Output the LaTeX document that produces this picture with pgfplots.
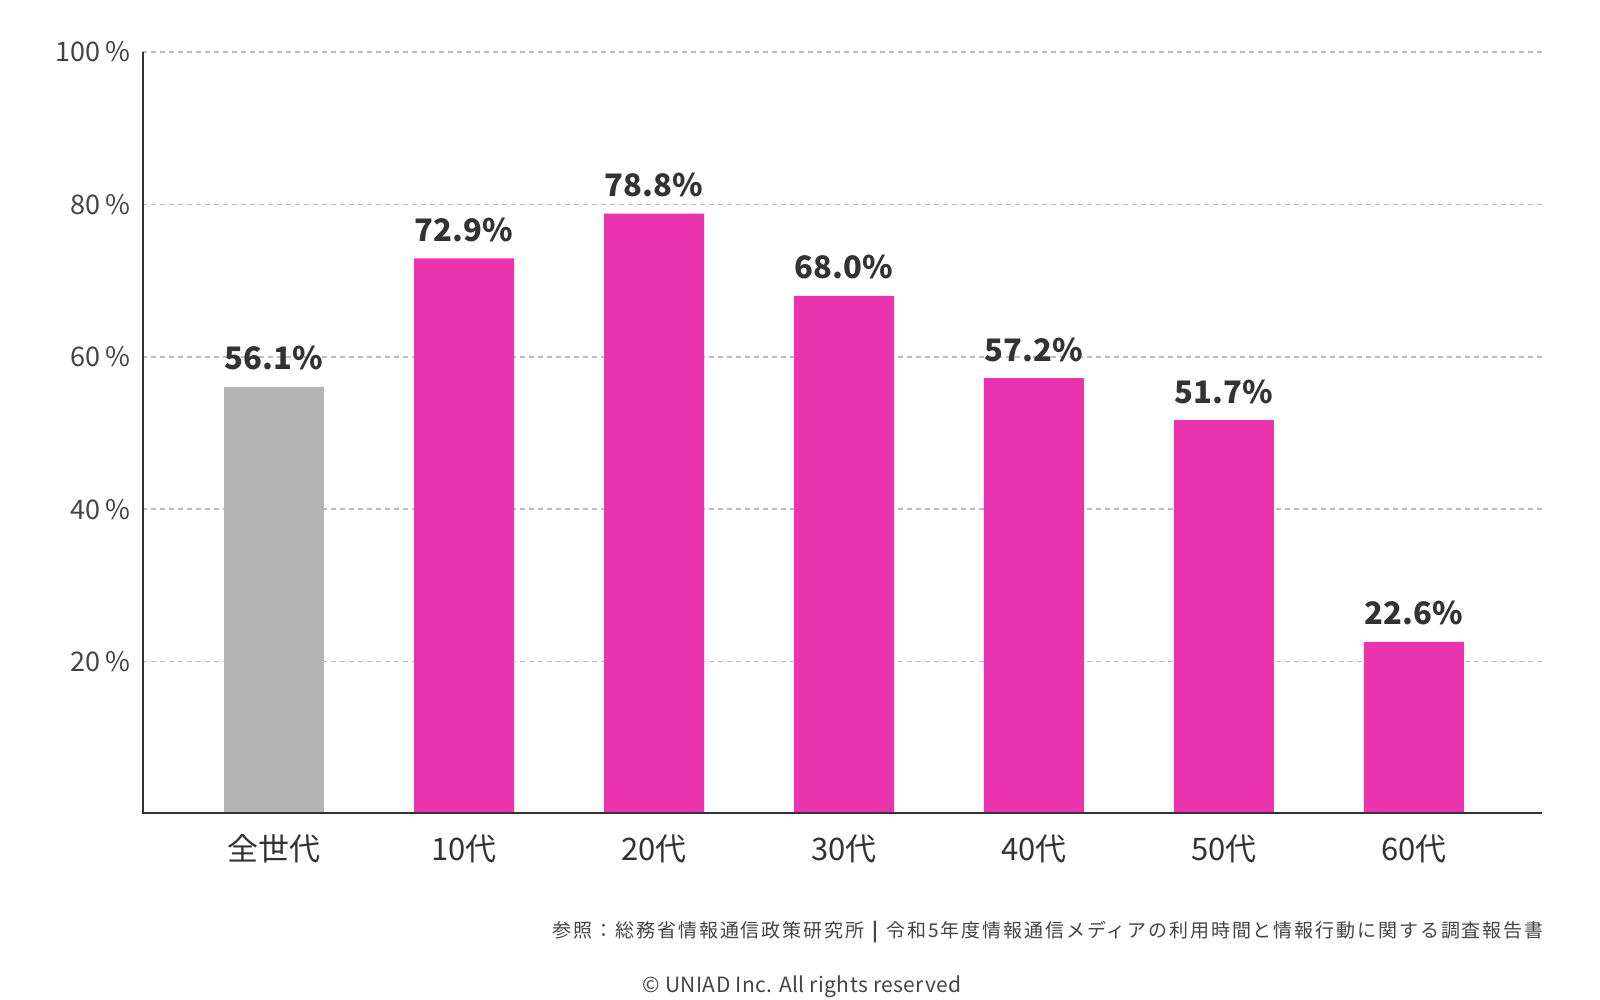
\documentclass[border=0pt]{standalone}
\usepackage{pgfplots}
\pgfplotsset{compat=1.18}
\usepackage{fontspec}
\setmainfont{Noto Sans CJK JP}
\newfontfamily\spaced[LetterSpace=10]{Noto Sans CJK JP}
\newfontfamily\spacedsmall[LetterSpace=2]{Noto Sans CJK JP}

\definecolor{barpink}{HTML}{E933AF}
\definecolor{bargray}{HTML}{B4B4B4}
\definecolor{axisc}{HTML}{333333}
\definecolor{gridc}{HTML}{BDBDBD}
\definecolor{txt}{HTML}{333333}
\definecolor{ticktxt}{HTML}{444444}

\newcommand{\pct}{\kern0.2em\%}

\begin{document}
\begin{tikzpicture}
\useasboundingbox (0,0) rectangle (800pt,500pt);
\begin{axis}[
    at={(71pt,93pt)}, anchor=south west,
    scale only axis, width=700pt, height=381pt,
    xmin=-0.695, xmax=6.674, ymin=0, ymax=100,
    axis x line=bottom, axis y line=left,
    axis line style={draw=none},
    major tick length=0pt,
    ytick={20,40,60,80,100},
    yticklabels={20\pct,40\pct,60\pct,80\pct,100\pct},
    yticklabel style={anchor=east, inner sep=0pt, xshift=-5.5pt,
        font=\fontsize{13.5}{16}\selectfont, text=ticktxt},
    xtick={0,1,2,3,4,5,6},
    xticklabels={全世代,10代,20代,30代,40代,50代,60代},
    xticklabel style={anchor=north, inner sep=0pt, yshift=-10pt,
        font=\fontsize{15.5}{18}\selectfont, text=txt},
    ymajorgrids,
    grid style={gridc, line width=0.75pt, dash pattern=on 2.5pt off 2pt},
    ybar, bar width=50pt, bar shift=0pt,
    point meta=explicit symbolic,
    nodes near coords,
    nodes near coords style={anchor=base, inner sep=0pt, yshift=8.5pt,
        font=\fontsize{15.5}{18}\selectfont\bfseries, text=txt},
]
% 全世代
\addplot[fill=bargray, draw=none] coordinates {(0,56.1) [56.1\%]};
% 年代別
\addplot[fill=barpink, draw=none] coordinates {
    (1,72.9) [72.9\%]
    (2,78.8) [78.8\%]
    (3,68.0) [68.0\%]
    (4,57.2) [57.2\%]
    (5,51.7) [51.7\%]
    (6,22.6) [22.6\%]
};
\draw[axisc, line width=2.4pt] (rel axis cs:0,1) -- (rel axis cs:0,0) -- (rel axis cs:1,0);
\end{axis}
\node[anchor=base east, inner sep=0pt, text=ticktxt, font=\spaced\fontsize{9.5}{11}\selectfont]
    at (772pt,31pt) {参照：総務省情報通信政策研究所 \textbf{|} 令和5年度情報通信メディアの利用時間と情報行動に関する調査報告書};
\node[anchor=base, inner sep=0pt, text=ticktxt, font=\spacedsmall\fontsize{10.5}{12}\selectfont]
    at (401pt,3.5pt) {© UNIAD Inc. All rights reserved};
\end{tikzpicture}
\end{document}
